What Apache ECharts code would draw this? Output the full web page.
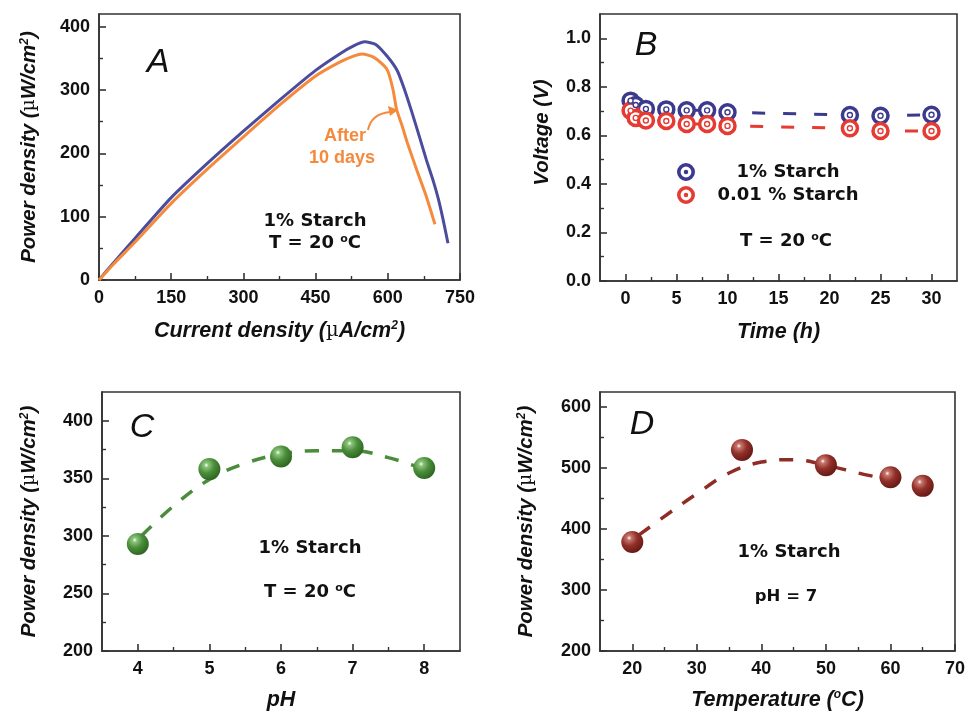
<!DOCTYPE html>
<html>
<head>
<meta charset="utf-8">
<script src="https://cdn.jsdelivr.net/npm/echarts@6/dist/echarts.min.js"></script>
<style>
html, body { margin: 0; padding: 0; background: #fff; }
#chart { width: 968px; height: 712px; }
</style>
</head>
<body>
<div id="chart"></div>
<script>
// A: power density vs current density
var aFreshI = [0, 30, 75, 150, 225, 300, 375, 450, 500, 530, 552, 575, 600, 620, 635, 650, 665, 680, 695, 705, 715, 725];
var aFreshP = [0, 27, 66, 130, 184, 235, 284, 331, 357, 370, 376, 372, 352, 330, 300, 265, 228, 190, 155, 128, 95, 58];
var aAgedI = [0, 30, 75, 150, 225, 300, 375, 450, 500, 530, 547, 570, 590, 600, 611, 618, 630, 640, 660, 680, 698];
var aAgedP = [0, 25, 60, 121, 175, 226, 276, 322, 344, 354, 357, 352, 340, 330, 300, 270, 243, 218, 174, 132, 88];

// B: voltage vs time
var bTime = [0.5, 1, 2, 4, 6, 8, 10, 22, 25, 30];
var bV1 = [0.743, 0.725, 0.709, 0.707, 0.703, 0.703, 0.695, 0.684, 0.681, 0.685];
var bV2 = [0.702, 0.672, 0.661, 0.659, 0.647, 0.647, 0.639, 0.629, 0.618, 0.618];

// C: power density vs pH
var cPH = [4, 5, 6, 7, 8];
var cPower = [293, 358, 369, 377, 359];
var cFitPH = [4.05, 4.5, 5, 5.5, 6, 6.5, 7, 7.5, 8];
var cFitPower = [300, 326, 349, 363, 371, 374, 374, 368, 358];

// D: power density vs temperature
var dTemp = [20, 37, 50, 60, 65];
var dPower = [379, 530, 505, 485, 471];
var dFitTemp = [21, 25, 30, 35, 40, 45, 50, 55, 59.5];
var dFitPower = [390, 421, 458, 492, 510, 514, 505, 492, 482];

// tick values
var aXTicks = [0, 150, 300, 450, 600, 750], aXMinor = [75, 225, 375, 525, 675];
var aYTicks = [0, 100, 200, 300, 400], aYMinor = [50, 150, 250, 350];
var bXTicks = [0, 5, 10, 15, 20, 25, 30], bXMinor = [2.5, 7.5, 12.5, 17.5, 22.5, 27.5];
var bYTicks = [0, 0.2, 0.4, 0.6, 0.8, 1.0], bYMinor = [0.1, 0.3, 0.5, 0.7, 0.9];
var cXTicks = [4, 5, 6, 7, 8], cXMinor = [4.5, 5.5, 6.5, 7.5];
var cYTicks = [200, 250, 300, 350, 400], cYMinor = [225, 275, 325, 375];
var dXTicks = [20, 30, 40, 50, 60, 70], dXMinor = [25, 35, 45, 55, 65];
var dYTicks = [200, 300, 400, 500, 600], dYMinor = [250, 350, 450, 550];

function zip(xs, ys) {
    return xs.map(function (x, i) { return [x, ys[i]]; });
}

var axisColor = '#333';
function nameRich(size) {
    return {
        n: { fontFamily: 'Liberation Sans', fontWeight: 'bold', fontStyle: 'italic', fontSize: size, color: '#111' },
        m: { fontFamily: 'DejaVu Serif', fontWeight: 'normal', fontStyle: 'normal', fontSize: size - 2, color: '#111' },
        s: { fontFamily: 'Liberation Sans', fontWeight: 'bold', fontStyle: 'italic', fontSize: Math.round(size * 0.58), color: '#111',
             verticalAlign: 'top', padding: [0, 0, 5, 0] }
    };
}
var powerName = '{n|Power density (}{m|µ}{n|W/cm}{s|2}{n|)}';

// main axis (labels + major ticks) and an overlay axis for minor ticks
function axisPair(dim, grid, min, max, majors, minors, name, nameGap, fmt, namePad) {
    var pos = dim === 'x' ? 'bottom' : 'left';
    var main = {
        type: 'value', gridIndex: grid, min: min, max: max, position: pos,
        name: name, nameLocation: 'middle', nameGap: nameGap,
        nameTextStyle: { rich: nameRich(dim === 'x' ? 21.5 : 20.5), padding: namePad || 0 },
        axisLine: { show: true, onZero: false, lineStyle: { color: axisColor, width: 1.6 } },
        axisTick: { show: true, inside: true, length: 7, customValues: majors, lineStyle: { color: axisColor, width: 1.6 } },
        axisLabel: {
            customValues: majors, margin: 9,
            fontFamily: 'Liberation Sans', fontWeight: 'bold', fontSize: 18, color: '#111',
            formatter: fmt
        },
        splitLine: { show: false }
    };
    var minor = {
        type: 'value', gridIndex: grid, min: min, max: max, position: pos,
        axisLine: { show: false, onZero: false },
        axisTick: { show: true, inside: true, length: 4, customValues: minors, lineStyle: { color: axisColor, width: 1.4 } },
        axisLabel: { show: false },
        splitLine: { show: false }
    };
    return [main, minor];
}

var xAxes = [].concat(
    axisPair('x', 0, 0, 750, aXTicks, aXMinor, '{n|Current density (}{m|µ}{n|A/cm}{s|2}{n|)}', 40),
    axisPair('x', 1, -2.5, 32.5, bXTicks, bXMinor, '{n|Time (h)}', 40),
    axisPair('x', 2, 3.5, 8.5, cXTicks, cXMinor, '{n|pH}', 38),
    axisPair('x', 3, 15, 70, dXTicks, dXMinor, '{n|Temperature (}{s|o}{n|C)}', 38)
);
var yAxes = [].concat(
    axisPair('y', 0, 0, 420, aYTicks, aYMinor, powerName, 60),
    axisPair('y', 1, 0, 1.1, bYTicks, bYMinor, '{n|Voltage (V)}', 48, function (v) { return v.toFixed(1); }, [0, 0, 0, 30]),
    axisPair('y', 2, 200, 425, cYTicks, cYMinor, powerName, 63),
    axisPair('y', 3, 200, 625, dYTicks, dYMinor, powerName, 64)
);

var gridStyle = { show: true, borderColor: axisColor, borderWidth: 1.6, backgroundColor: 'transparent' };
var grids = [
    Object.assign({ left: 99, top: 14, width: 361, height: 266 }, gridStyle),
    Object.assign({ left: 600, top: 14, width: 357, height: 267 }, gridStyle),
    Object.assign({ left: 102, top: 392, width: 358, height: 262 }, gridStyle),
    Object.assign({ left: 600, top: 392, width: 357, height: 262 }, gridStyle)
];

var blueA = '#4b4d9c', orangeA = '#f58a3c';
var blueB = '#3c3a8e', redB = '#e63b33';
var green = '#4a8c3a', brown = '#8e2c25';

function sphere(light, mid, dark) {
    return new echarts.graphic.RadialGradient(0.36, 0.32, 0.72, [
        { offset: 0, color: '#ffffff' },
        { offset: 0.14, color: light },
        { offset: 0.5, color: mid },
        { offset: 1, color: dark }
    ]);
}

function ringSeries(name, data, color, xi, yi) {
    return [{
        name: name, type: 'scatter', xAxisIndex: xi, yAxisIndex: yi, data: data,
        symbol: 'circle', symbolSize: 15, z: 4,
        itemStyle: { color: '#fff', borderColor: color, borderWidth: 3.5, opacity: 1 }
    }, {
        type: 'scatter', xAxisIndex: xi, yAxisIndex: yi, data: data,
        symbol: 'circle', symbolSize: 5, z: 5, silent: true,
        itemStyle: { color: '#fff', borderColor: color, borderWidth: 1.4, opacity: 1 }
    }];
}

var series = [
    { type: 'line', xAxisIndex: 0, yAxisIndex: 0, data: zip(aFreshI, aFreshP), smooth: 0.2, showSymbol: false,
      lineStyle: { color: blueA, width: 3 } },
    { type: 'line', xAxisIndex: 0, yAxisIndex: 0, data: zip(aAgedI, aAgedP), smooth: 0.2, showSymbol: false,
      lineStyle: { color: orangeA, width: 3 } },

    { type: 'line', xAxisIndex: 2, yAxisIndex: 2, data: zip(bTime, bV1), showSymbol: false,
      lineStyle: { color: blueB, width: 3, type: [13, 18] } },
    { type: 'line', xAxisIndex: 2, yAxisIndex: 2, data: zip(bTime, bV2), showSymbol: false,
      lineStyle: { color: redB, width: 3, type: [13, 18] } }
].concat(
    ringSeries('1% Starch', zip(bTime, bV1), blueB, 2, 2),
    ringSeries('0.01 % Starch', zip(bTime, bV2), redB, 2, 2),
    [
        { type: 'line', xAxisIndex: 4, yAxisIndex: 4, data: zip(cFitPH, cFitPower), smooth: 0.4, showSymbol: false,
          lineStyle: { color: green, width: 3.5, type: [14, 13] } },
        { type: 'scatter', xAxisIndex: 4, yAxisIndex: 4, data: zip(cPH, cPower), symbolSize: 22, z: 4,
          itemStyle: { color: sphere('#8cc47c', '#4b8e3b', '#2c6421'), opacity: 1 } },
        { type: 'line', xAxisIndex: 6, yAxisIndex: 6, data: zip(dFitTemp, dFitPower), smooth: 0.4, showSymbol: false,
          lineStyle: { color: brown, width: 3.5, type: [14, 13] } },
        { type: 'scatter', xAxisIndex: 6, yAxisIndex: 6, data: zip(dTemp, dPower), symbolSize: 22, z: 4,
          itemStyle: { color: sphere('#c7776d', '#92302a', '#641813'), opacity: 1 } }
    ]
);

// ring with a dot, as in the legend of panel B
var ringDot = 'path://M8,0A8,8,0,1,1,8,16A8,8,0,1,1,8,0ZM8,3.2A4.8,4.8,0,1,0,8,12.8A4.8,4.8,0,1,0,8,3.2ZM8,6A2,2,0,1,1,8,10A2,2,0,1,1,8,6Z';
function legendFor(name, color, top) {
    return {
        data: [{ name: name, icon: ringDot, itemStyle: { color: color, borderWidth: 0 } }],
        left: 677, top: top, padding: 0, itemWidth: 18, itemHeight: 18, selectedMode: false,
        formatter: '{t|{name}}',
        textStyle: { rich: { t: { width: 176, align: 'center', fontFamily: 'DejaVu Sans', fontWeight: 'bold', fontSize: 18, color: '#111' } } }
    };
}

function note(x, y, text, size) {
    size = size || 18;
    return {
        type: 'text', x: x, y: y, z: 10,
        style: {
            text: text, align: 'center', verticalAlign: 'middle',
            fontFamily: 'DejaVu Sans', fontWeight: 'bold', fontSize: size, fill: '#111',
            rich: { s: { fontFamily: 'DejaVu Sans', fontWeight: 'bold', fontSize: Math.round(size * 0.62), fill: '#111',
                         verticalAlign: 'top', padding: [0, 0, 6, 0] } }
        }
    };
}
function letter(x, y, text) {
    return {
        type: 'text', x: x, y: y, z: 10,
        style: { text: text, align: 'center', verticalAlign: 'middle', fontFamily: 'Liberation Sans', fontStyle: 'italic', fontSize: 34, fill: '#111' }
    };
}

var graphics = [
    letter(158, 63, 'A'), letter(646, 46, 'B'), letter(142, 428, 'C'), letter(642, 425, 'D'),
    note(315, 221, '1% Starch'), note(315, 243, 'T = 20 {s|o}C'),
    note(786, 241, 'T = 20 {s|o}C'),
    note(310, 548, '1% Starch'), note(310, 592, 'T = 20 {s|o}C'),
    note(789, 552, '1% Starch'), note(786, 597, 'pH = 7', 16.5),
    { type: 'text', x: 345, y: 136, z: 10, style: { text: 'After', align: 'center', verticalAlign: 'middle',
      fontFamily: 'Liberation Sans', fontWeight: 'bold', fontSize: 18, fill: orangeA } },
    { type: 'text', x: 342, y: 158, z: 10, style: { text: '10 days', align: 'center', verticalAlign: 'middle',
      fontFamily: 'Liberation Sans', fontWeight: 'bold', fontSize: 18, fill: orangeA } },
    { type: 'bezierCurve', z: 10, shape: { x1: 368, y1: 130, cpx1: 371, cpy1: 114, x2: 390, y2: 112 },
      style: { stroke: orangeA, lineWidth: 2, fill: 'none' } },
    { type: 'polygon', z: 10, shape: { points: [[398, 110], [388, 106], [390, 116]] }, style: { fill: orangeA } }
];

var myChart = echarts.init(document.getElementById('chart'));
myChart.setOption({
    backgroundColor: '#fff',
    animation: false,
    grid: grids,
    xAxis: xAxes,
    yAxis: yAxes,
    legend: [legendFor('1% Starch', blueB, 163), legendFor('0.01 % Starch', redB, 186)],
    series: series,
    graphic: graphics
});
</script>
</body>
</html>
